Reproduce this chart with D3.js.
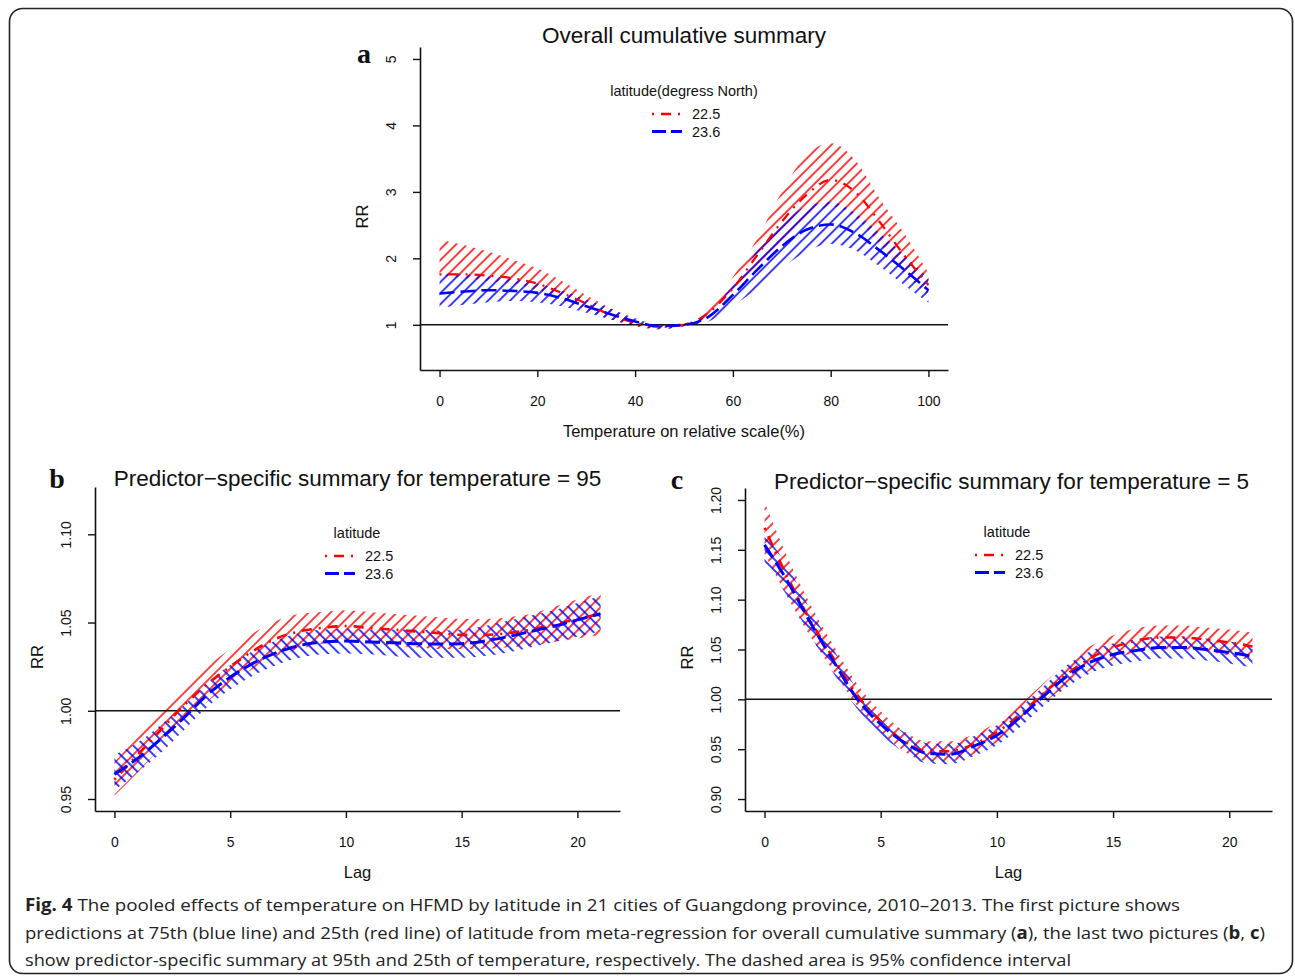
<!DOCTYPE html>
<html>
<head>
<meta charset="utf-8">
<script src="https://cdn.jsdelivr.net/npm/d3@7"></script>
<style>
  body { margin: 0; background: #fff; }
  svg text { font-family: "Liberation Sans", Arial, sans-serif; fill: #111; }
</style>
</head>
<body>
<svg id="fig" width="1295" height="976"></svg>
<script>
// ---- panel a: overall cumulative summary ----
const tempPct = [0, 5, 10, 15, 20, 25, 30, 35, 40, 45, 50, 55, 60, 65, 70, 75, 80, 85, 90, 95, 100];
const aRed    = [1.76, 1.76, 1.74, 1.70, 1.62, 1.48, 1.32, 1.15, 1.03, 0.97, 1.00, 1.18, 1.55, 2.05, 2.55, 2.95, 3.18, 3.00, 2.55, 2.05, 1.60];
const aRedLo  = [1.74, 1.70, 1.66, 1.62, 1.52, 1.38, 1.22, 1.08, 0.98, 0.93, 0.98, 1.10, 1.42, 1.85, 2.25, 2.60, 2.78, 2.62, 2.22, 1.78, 1.45];
const aRedHi  = [2.28, 2.20, 2.10, 1.98, 1.85, 1.66, 1.45, 1.25, 1.07, 0.99, 1.02, 1.24, 1.72, 2.30, 3.00, 3.55, 3.73, 3.48, 2.90, 2.38, 1.78];
const aBlue   = [1.47, 1.50, 1.52, 1.51, 1.48, 1.40, 1.28, 1.16, 1.05, 0.98, 1.00, 1.12, 1.45, 1.83, 2.18, 2.43, 2.51, 2.38, 2.12, 1.83, 1.52];
const aBlueLo = [1.25, 1.30, 1.34, 1.36, 1.34, 1.28, 1.18, 1.08, 0.99, 0.94, 0.98, 1.05, 1.28, 1.55, 1.85, 2.10, 2.22, 2.12, 1.88, 1.60, 1.33];
const aBlueHi = [1.78, 1.76, 1.73, 1.69, 1.62, 1.52, 1.38, 1.24, 1.10, 1.00, 1.02, 1.18, 1.60, 2.12, 2.52, 2.78, 2.85, 2.68, 2.38, 2.05, 1.70];

// ---- panels b and c: lag 0..21 ----
const lags = [0, 1, 2, 3, 4, 5, 6, 7, 8, 9, 10, 11, 12, 13, 14, 15, 16, 17, 18, 19, 20, 21];

// b: temperature = 95
const bRed    = [0.961, 0.975, 0.989, 1.003, 1.015, 1.025, 1.034, 1.041, 1.045, 1.047, 1.048, 1.047, 1.046, 1.045, 1.044, 1.043, 1.043, 1.044, 1.046, 1.049, 1.052, 1.055];
const bRedLo  = [0.952, 0.965, 0.979, 0.993, 1.005, 1.015, 1.024, 1.031, 1.035, 1.038, 1.039, 1.038, 1.037, 1.036, 1.035, 1.035, 1.035, 1.036, 1.037, 1.039, 1.041, 1.043];
const bRedHi  = [0.971, 0.985, 0.999, 1.013, 1.025, 1.035, 1.044, 1.051, 1.055, 1.056, 1.057, 1.056, 1.055, 1.054, 1.053, 1.052, 1.052, 1.053, 1.055, 1.059, 1.063, 1.067];
const bBlue   = [0.964, 0.973, 0.984, 0.996, 1.009, 1.019, 1.027, 1.033, 1.037, 1.039, 1.0395, 1.039, 1.0385, 1.038, 1.0378, 1.038, 1.0395, 1.042, 1.045, 1.048, 1.0515, 1.055];
const bBlueLo = [0.955, 0.965, 0.976, 0.989, 1.002, 1.012, 1.020, 1.026, 1.030, 1.032, 1.0325, 1.032, 1.031, 1.030, 1.030, 1.030, 1.031, 1.033, 1.036, 1.039, 1.042, 1.045];
const bBlueHi = [0.975, 0.982, 0.992, 1.003, 1.016, 1.026, 1.034, 1.040, 1.044, 1.046, 1.0465, 1.046, 1.046, 1.046, 1.0455, 1.046, 1.048, 1.051, 1.054, 1.057, 1.061, 1.065];

// c: temperature = 5
const cRed    = [1.172, 1.122, 1.078, 1.040, 1.004, 0.978, 0.958, 0.948, 0.948, 0.955, 0.967, 0.985, 1.006, 1.025, 1.041, 1.052, 1.059, 1.062, 1.062, 1.060, 1.057, 1.053];
const cRedLo  = [1.146, 1.102, 1.062, 1.027, 0.993, 0.968, 0.948, 0.938, 0.938, 0.945, 0.957, 0.975, 0.996, 1.014, 1.029, 1.040, 1.047, 1.050, 1.050, 1.048, 1.044, 1.039];
const cRedHi  = [1.198, 1.142, 1.094, 1.053, 1.015, 0.988, 0.968, 0.958, 0.958, 0.965, 0.977, 0.995, 1.016, 1.036, 1.053, 1.064, 1.071, 1.074, 1.074, 1.072, 1.070, 1.067];
const cBlue   = [1.155, 1.118, 1.076, 1.037, 1.000, 0.975, 0.957, 0.946, 0.945, 0.953, 0.964, 0.982, 1.003, 1.023, 1.037, 1.045, 1.049, 1.052, 1.052, 1.050, 1.047, 1.043];
const cBlueLo = [1.136, 1.103, 1.063, 1.025, 0.990, 0.965, 0.947, 0.936, 0.935, 0.943, 0.954, 0.972, 0.993, 1.012, 1.026, 1.034, 1.038, 1.041, 1.041, 1.039, 1.036, 1.032];
const cBlueHi = [1.166, 1.133, 1.089, 1.049, 1.010, 0.985, 0.967, 0.956, 0.955, 0.963, 0.974, 0.992, 1.013, 1.034, 1.048, 1.056, 1.060, 1.063, 1.063, 1.061, 1.058, 1.055];

// ticks and labels
const aXTicks = [0, 20, 40, 60, 80, 100];
const aYTicks = [1, 2, 3, 4, 5];
const lagTicks = [0, 5, 10, 15, 20];
const bYTicks = [0.95, 1.00, 1.05, 1.10];
const cYTicks = [0.90, 0.95, 1.00, 1.05, 1.10, 1.15, 1.20];
const seriesNames = ['22.5', '23.6'];

const RED = '#ff0000', BLUE = '#0000ff';
const svg = d3.select('#fig');
const defs = svg.append('defs');

// frame
svg.append('rect')
  .attr('x', 9.5).attr('y', 8.5).attr('width', 1283).attr('height', 965)
  .attr('rx', 13).attr('fill', 'none').attr('stroke', '#222').attr('stroke-width', 1.6);

// hatch patterns (R polygon density lines)
function hatch(id, color, angle) {
  const s = 7.8;
  const p = defs.append('pattern')
    .attr('id', id)
    .attr('patternUnits', 'userSpaceOnUse')
    .attr('width', s).attr('height', s)
    .attr('patternTransform', `rotate(${angle})`);
  p.append('line')
    .attr('x1', s / 2).attr('y1', -1).attr('x2', s / 2).attr('y2', s + 1)
    .attr('stroke', color).attr('stroke-width', 1.5);
}
hatch('hRedFwd', RED, 45);
hatch('hBlueFwd', BLUE, 45);
hatch('hBlueBack', BLUE, -45);

function panel(cfg) {
  const x = d3.scaleLinear().domain(cfg.xDomain).range([cfg.left, cfg.right]);
  const y = d3.scaleLinear().domain(cfg.yDomain).range([cfg.bottom, cfg.top]);
  const g = svg.append('g');

  // bands
  const band = (lo, hi, pat) => {
    const area = d3.area()
      .x((d, i) => x(cfg.xs[i]))
      .y0((d, i) => y(lo[i]))
      .y1((d, i) => y(hi[i]))
      .curve(d3.curveMonotoneX);
    g.append('path').attr('d', area(lo)).attr('fill', `url(#${pat})`).attr('stroke', 'none');
  };
  band(cfg.redLo, cfg.redHi, 'hRedFwd');
  band(cfg.blueLo, cfg.blueHi, cfg.bluePat);

  // reference line at RR = 1
  g.append('line')
    .attr('x1', cfg.left).attr('x2', cfg.right)
    .attr('y1', y(1)).attr('y2', y(1))
    .attr('stroke', '#111').attr('stroke-width', 1.5);

  // estimate lines
  const line = d3.line()
    .x((d, i) => x(cfg.xs[i]))
    .y(d => y(d))
    .curve(d3.curveMonotoneX);
  g.append('path').attr('d', line(cfg.red))
    .attr('fill', 'none').attr('stroke', RED).attr('stroke-width', cfg.lw)
    .attr('stroke-dasharray', '2,7,10,7');
  g.append('path').attr('d', line(cfg.blue))
    .attr('fill', 'none').attr('stroke', BLUE).attr('stroke-width', cfg.lw + 0.4)
    .attr('stroke-dasharray', '15,6');

  // axes
  const xAxis = g.append('g')
    .attr('transform', `translate(0,${cfg.bottom})`)
    .call(d3.axisBottom(x).tickValues(cfg.xTicks).tickSize(7).tickSizeOuter(0).tickFormat(d3.format('d')));
  xAxis.selectAll('text').attr('y', 36).attr('dy', 0).style('font-size', '14px');

  const yAxis = g.append('g')
    .attr('transform', `translate(${cfg.left},0)`)
    .call(d3.axisLeft(y).tickValues(cfg.yTicks).tickSize(7).tickSizeOuter(0).tickFormat(d3.format(cfg.yFormat)));
  yAxis.selectAll('text')
    .attr('transform', 'rotate(-90)')
    .attr('x', 0).attr('y', -24).attr('dy', 0)
    .attr('text-anchor', 'middle')
    .style('font-size', '14px');

  [xAxis, yAxis].forEach(ax => {
    ax.select('.domain').attr('stroke', '#111').attr('stroke-width', 1.6);
    ax.selectAll('.tick line').attr('stroke', '#111').attr('stroke-width', 1.4);
  });

  // titles
  const cx = (cfg.left + cfg.right) / 2;
  g.append('text').attr('x', cx + cfg.titleDx).attr('y', cfg.titleY)
    .attr('text-anchor', 'middle').style('font-size', cfg.titleSize + 'px')
    .text(cfg.title);
  g.append('text').attr('x', cfg.tagX).attr('y', cfg.tagY)
    .attr('text-anchor', 'middle')
    .style('font-family', '"Liberation Serif", "Times New Roman", serif')
    .style('font-weight', 'bold').style('font-size', '28px')
    .text(cfg.tag);
  g.append('text').attr('x', cx).attr('y', cfg.bottom + 61)
    .attr('text-anchor', 'middle').attr('dominant-baseline', 'central')
    .style('font-size', '16.5px').text(cfg.xLabel);
  g.append('text')
    .attr('transform', `translate(${cfg.left - 58},${(cfg.top + cfg.bottom) / 2 + 8}) rotate(-90)`)
    .attr('text-anchor', 'middle').attr('dominant-baseline', 'central')
    .style('font-size', '16.5px').text('RR');

  // legend
  const lg = g.append('g');
  lg.append('text').attr('x', cfg.legX + 15 + cfg.legTitleDx).attr('y', cfg.legY - 18)
    .attr('text-anchor', 'middle').style('font-size', '14.5px').text(cfg.legTitle);
  const legStyles = [
    { color: RED, dash: '2,7,10,7', w: 2.5 },
    { color: BLUE, dash: '14,5', w: 2.8 }
  ];
  seriesNames.forEach((name, i) => {
    const ly = cfg.legY + i * 17.5;
    lg.append('line')
      .attr('x1', cfg.legX).attr('x2', cfg.legX + 30)
      .attr('y1', ly).attr('y2', ly)
      .attr('stroke', legStyles[i].color).attr('stroke-width', legStyles[i].w)
      .attr('stroke-dasharray', legStyles[i].dash);
    lg.append('text').attr('x', cfg.legX + 40).attr('y', ly + 5)
      .style('font-size', '14.5px').text(name);
  });
}

panel({
  xs: tempPct, red: aRed, redLo: aRedLo, redHi: aRedHi,
  blue: aBlue, blueLo: aBlueLo, blueHi: aBlueHi, bluePat: 'hBlueFwd',
  xDomain: [-4, 104], yDomain: [0.32, 5.18],
  left: 420, right: 948, top: 47, bottom: 370,
  xTicks: aXTicks, yTicks: aYTicks, yFormat: 'd', lw: 2.2,
  title: 'Overall cumulative summary', titleY: 43, titleSize: 22.5, titleDx: 0,
  tag: 'a', tagX: 364, tagY: 63,
  xLabel: 'Temperature on relative scale(%)',
  legTitle: 'latitude(degress North)', legTitleDx: 17, legX: 652, legY: 114
});

panel({
  xs: lags, red: bRed, redLo: bRedLo, redHi: bRedHi,
  blue: bBlue, blueLo: bBlueLo, blueHi: bBlueHi, bluePat: 'hBlueBack',
  xDomain: [-0.84, 21.84], yDomain: [0.9432, 1.1268],
  left: 95, right: 620, top: 487, bottom: 811,
  xTicks: lagTicks, yTicks: bYTicks, yFormat: '.2f', lw: 2.6,
  title: 'Predictor\u2212specific summary for temperature = 95', titleY: 486, titleSize: 22.5, titleDx: 0,
  tag: 'b', tagX: 57, tagY: 488,
  xLabel: 'Lag',
  legTitle: 'latitude', legTitleDx: 17, legX: 325, legY: 556
});

panel({
  xs: lags, red: cRed, redLo: cRedLo, redHi: cRedHi,
  blue: cBlue, blueLo: cBlueLo, blueHi: cBlueHi, bluePat: 'hBlueBack',
  xDomain: [-0.84, 21.84], yDomain: [0.888, 1.212],
  left: 745, right: 1272, top: 488, bottom: 811,
  xTicks: lagTicks, yTicks: cYTicks, yFormat: '.2f', lw: 2.6,
  title: 'Predictor\u2212specific summary for temperature = 5', titleY: 489, titleSize: 22.5, titleDx: 3,
  tag: 'c', tagX: 677, tagY: 489,
  xLabel: 'Lag',
  legTitle: 'latitude', legTitleDx: 17, legX: 975, legY: 555
});

// caption
const captionLines = [
  { parts: [['Fig. 4', true], [' The pooled effects of temperature on HFMD by latitude in 21 cities of Guangdong province, 2010\u20132013. The first picture shows', false]], width: 1155 },
  { parts: [['predictions at 75th (blue line) and 25th (red line) of latitude from meta-regression for overall cumulative summary (', false], ['a', true], ['), the last two pictures (', false], ['b', true], [', ', false], ['c', true], [')', false]], width: 1240 },
  { parts: [['show predictor-specific summary at 95th and 25th of temperature, respectively. The dashed area is 95% confidence interval', false]], width: 1046 }
];
const captionY = [911, 939, 966];
captionLines.forEach((ln, i) => {
  const t = svg.append('text')
    .attr('x', 25).attr('y', captionY[i])
    .attr('textLength', ln.width).attr('lengthAdjust', 'spacingAndGlyphs')
    .style('font-family', '"Open Sans", "Noto Sans", sans-serif')
    .style('font-size', '17px').style('fill', '#222');
  ln.parts.forEach(([s, bold]) => {
    t.append('tspan').style('font-weight', bold ? 'bold' : 'normal').text(s);
  });
});
</script>
</body>
</html>
